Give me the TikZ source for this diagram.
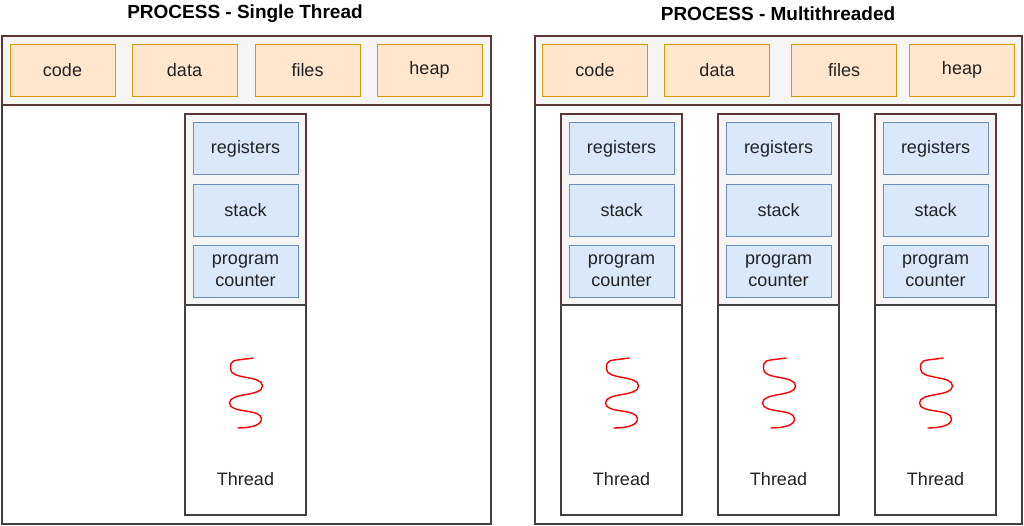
\documentclass[tikz,border=0pt]{standalone}
\usepackage{fontspec}
\setmainfont{Liberation Sans}
\usetikzlibrary{positioning}
\definecolor{brd}{RGB}{92, 55, 55}
\definecolor{gry}{RGB}{245, 245, 245}
\definecolor{org}{RGB}{255, 230, 204}
\definecolor{orgd}{RGB}{215, 155, 0}
\definecolor{blu}{RGB}{218, 232, 252}
\definecolor{blud}{RGB}{108, 142, 191}
\definecolor{txt}{RGB}{34, 34, 34}
\tikzset{
  band/.style={draw=brd, fill=gry, line width=1.2pt, rectangle, inner sep=0pt},
  plain/.style={draw=black!75, fill=white, line width=1.2pt, rectangle, inner sep=0pt},
  res/.style={draw=orgd, fill=org, rectangle, minimum width=105pt, minimum height=52pt, text=txt, font=\fontsize{18}{21}\selectfont},
  reg/.style={draw=blud, fill=blu, rectangle, minimum width=105pt, minimum height=52pt, inner sep=0pt, text=txt, align=center, font=\fontsize{18}{21}\selectfont},
  ttl/.style={font=\fontsize{19}{22}\selectfont\bfseries, text=black},
  lbl/.style={font=\fontsize{18}{21}\selectfont, text=txt},
  wave/.style={draw=red, line width=1.4pt}
}
\newcommand{\threadcol}[2]{% name, center x
  \node (#1top) [band, minimum width=121pt, minimum height=191pt] at (#2pt, -209.5pt) {};
  \node (#1reg) [reg] at (#2pt, -148.5pt) {registers};
  \node (#1stk) [reg] at (#2pt, -210pt) {stack};
  \node (#1pc) [reg] at (#2pt, -271pt) {program\\[1pt]counter};
  \node (#1bot) [plain, minimum width=121pt, minimum height=210pt] at (#2pt, -410pt) {};
  \node (#1lbl) [lbl] at (#2pt, -479pt) {Thread};
  \coordinate (#1w) at (#2pt, -393pt);
  \draw [wave] ([shift={(8pt,35pt)}]#1w) .. controls +(-22pt,-3pt) and +(0pt,10pt) .. ([shift={(-15pt,24pt)}]#1w)
    .. controls +(0pt,-11pt) and +(0pt,11pt) .. ([shift={(17pt,7pt)}]#1w)
    .. controls +(0pt,-11pt) and +(0pt,11pt) .. ([shift={(-16pt,-10pt)}]#1w)
    .. controls +(0pt,-11pt) and +(0pt,11pt) .. ([shift={(16pt,-26pt)}]#1w)
    .. controls +(0pt,-6pt) and +(14pt,0pt) .. ([shift={(-8pt,-35pt)}]#1w);
}
\begin{document}
\begin{tikzpicture}
\useasboundingbox (0pt, 0pt) rectangle (1024pt, -526pt);
% single thread process
\node (stitle) [ttl] at (245pt, -14pt) {PROCESS - Single Thread};
\node (sbody) [plain, minimum width=489pt, minimum height=419pt] at (246.5pt, -314.5pt) {};
\node (sband) [band, minimum width=489pt, minimum height=69pt] at (246.5pt, -70.5pt) {};
\node (scode) [res] at (62.5pt, -70pt) {code};
\node (sdata) [res] at (184.5pt, -70pt) {data};
\node (sfiles) [res] at (307.5pt, -70pt) {files};
\node (sheap) [res] at (429.5pt, -70pt) {heap};
\threadcol{s}{245.5}
% multithreaded process
\node (mtitle) [ttl] at (778pt, -14pt) {PROCESS - Multithreaded};
\node (mbody) [plain, minimum width=487pt, minimum height=419pt] at (778.5pt, -314.5pt) {};
\node (mband) [band, minimum width=487pt, minimum height=69pt] at (778.5pt, -70.5pt) {};
\node (mcode) [res] at (595pt, -70pt) {code};
\node (mdata) [res] at (717pt, -70pt) {data};
\node (mfiles) [res] at (844pt, -70pt) {files};
\node (mheap) [res] at (962pt, -70pt) {heap};
\foreach \nm/\cx in {ma/621.5, mb/778.5, mc/935.5}
  \threadcol{\nm}{\cx};
\end{tikzpicture}
\end{document}
